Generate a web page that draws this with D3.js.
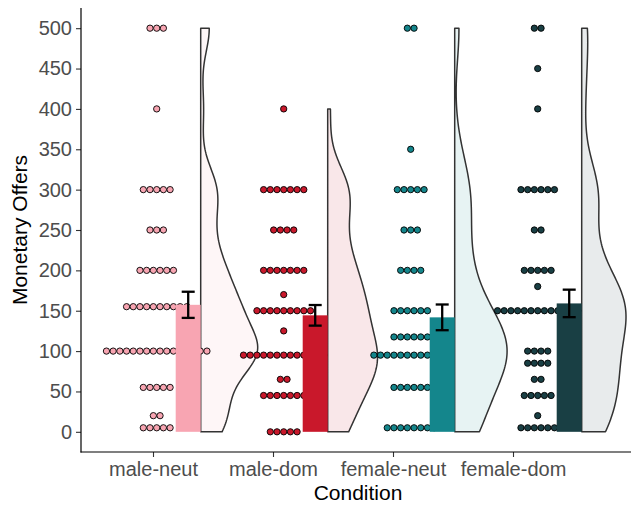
<!DOCTYPE html>
<html>
<head>
<meta charset="utf-8">
<script src="https://cdn.jsdelivr.net/npm/d3@7"></script>
<style>
body { margin: 0; background: #fff; }
text { font-family: "Liberation Sans", Arial, sans-serif; }
</style>
</head>
<body>
<script>
// categories, colours and tick labels
var categories = ["male-neut", "male-dom", "female-neut", "female-dom"];
var colors = ["#f8a5b2", "#c9182b", "#14868c", "#193f44"];
var yTicks = [0, 50, 100, 150, 200, 250, 300, 350, 400, 450, 500];

// offers (value, number of participants giving it), estimated from the dot rows
var maleNeutValues = [0, 10, 20, 50, 60, 100, 150, 160, 200, 250, 300, 400, 500];
var maleNeutCounts = [2, 3, 2, 3, 2, 16, 8, 2, 6, 3, 5, 1, 3];

var maleDomValues = [0, 40, 50, 60, 70, 90, 100, 125, 150, 170, 200, 250, 300, 400];
var maleDomCounts = [5, 3, 4, 1, 1, 7, 6, 1, 9, 1, 7, 4, 7, 1];

var femaleNeutValues = [0, 10, 50, 60, 90, 100, 115, 120, 150, 200, 250, 300, 350, 500];
var femaleNeutCounts = [4, 4, 3, 3, 6, 6, 3, 3, 6, 4, 3, 5, 1, 2];

var femaleDomValues = [0, 10, 20, 40, 50, 60, 70, 80, 90, 100, 150, 180, 200, 250, 300, 400, 450, 500];
var femaleDomCounts = [3, 3, 1, 2, 3, 1, 1, 2, 2, 4, 13, 1, 5, 2, 6, 1, 1, 2];

var rows = [
    [maleNeutValues, maleNeutCounts],
    [maleDomValues, maleDomCounts],
    [femaleNeutValues, femaleNeutCounts],
    [femaleDomValues, femaleDomCounts]
];

var width = 631, height = 506;
var svg = d3.select("body").append("svg")
    .attr("width", width)
    .attr("height", height);

var yScale = d3.scaleLinear().domain([-25, 525]).range([452, 8]);
var xScale = d3.scalePoint().domain(categories).range([153, 513]);
// the raincloud pieces sit on their own, slightly wider, spacing
var baseScale = d3.scaleLinear().domain([0, 3]).range([200.7, 581.7]);

var dotD = 6.7, barW = 25, dotShift = 44, maxHalf = 57, binWidth = 16;

// dot-density binning: a bin starts at a value and takes everything within binWidth
function dotBins(sorted) {
    var bins = [], i = 0;
    while (i < sorted.length) {
        var j = i;
        while (j < sorted.length && sorted[j] < sorted[i] + binWidth) j++;
        bins.push({ center: (sorted[i] + sorted[j - 1]) / 2, count: j - i });
        i = j;
    }
    return bins;
}

function bwNrd0(x) {
    var s = d3.deviation(x);
    var iqr = (d3.quantile(x, 0.75) - d3.quantile(x, 0.25)) / 1.34;
    var lo = Math.min(s, iqr) || s;
    return 0.9 * lo * Math.pow(x.length, -0.2);
}

var groups = rows.map(function(r, i) {
    var vals = [];
    r[0].forEach(function(v, k) {
        for (var j = 0; j < r[1][k]; j++) vals.push(v);
    });
    vals.sort(d3.ascending);
    var g = { i: i, name: categories[i], values: vals, bins: dotBins(vals) };
    var bw = bwNrd0(vals);
    var lo = d3.min(vals), hi = d3.max(vals);
    g.dens = d3.range(200).map(function(k) {
        var y = lo + (hi - lo) * k / 199;
        var s = 0;
        vals.forEach(function(v) {
            var z = (y - v) / bw;
            s += Math.exp(-0.5 * z * z);
        });
        return { y: y, d: s / (vals.length * bw * Math.sqrt(2 * Math.PI)) };
    });
    g.mean = d3.mean(vals);
    g.se = d3.deviation(vals) / Math.sqrt(vals.length);
    return g;
});

var maxDens = d3.max(groups, function(g) { return d3.max(g.dens, function(p) { return p.d; }); });
var wScale = d3.scaleLinear().domain([0, maxDens]).range([0, maxHalf]);

// half violins
groups.forEach(function(g) {
    var base = baseScale(g.i);
    var area = d3.area()
        .x0(base)
        .x1(function(p) { return base + wScale(p.d); })
        .y(function(p) { return yScale(p.y); });
    svg.append("path")
        .datum(g.dens)
        .attr("d", area)
        .attr("fill", colors[g.i])
        .attr("fill-opacity", 0.1)
        .attr("stroke", "#333333")
        .attr("stroke-width", 1.5)
        .attr("stroke-linejoin", "round");
});

// dot rows
groups.forEach(function(g) {
    var cx = baseScale(g.i) - dotShift;
    g.bins.forEach(function(b) {
        var n = b.count;
        svg.selectAll(null)
            .data(d3.range(n))
            .enter()
            .append("circle")
            .attr("cx", function(j) { return cx + (j - (n - 1) / 2) * dotD; })
            .attr("cy", yScale(b.center))
            .attr("r", dotD / 2 - 0.2)
            .attr("fill", colors[g.i])
            .attr("stroke", "#000")
            .attr("stroke-width", 0.9);
    });
});

// bars of the means
svg.selectAll("rect.bar")
    .data(groups)
    .enter()
    .append("rect")
    .attr("class", "bar")
    .attr("x", function(g) { return baseScale(g.i) - barW; })
    .attr("y", function(g) { return yScale(g.mean); })
    .attr("width", barW)
    .attr("height", function(g) { return yScale(0) - yScale(g.mean); })
    .attr("fill", function(g) { return colors[g.i]; });

// error bars (standard error)
groups.forEach(function(g) {
    var cx = baseScale(g.i) - barW / 2;
    var top = yScale(g.mean + g.se), bot = yScale(g.mean - g.se);
    var eb = svg.append("g").attr("stroke", "#000").attr("stroke-width", 2.3);
    eb.append("line").attr("x1", cx).attr("x2", cx).attr("y1", top).attr("y2", bot);
    eb.append("line").attr("x1", cx - 6.5).attr("x2", cx + 6.5).attr("y1", top).attr("y2", top);
    eb.append("line").attr("x1", cx - 6.5).attr("x2", cx + 6.5).attr("y1", bot).attr("y2", bot);
});

// axes
var yAxis = d3.axisLeft(yScale).tickValues(yTicks).tickSize(5).tickSizeOuter(0).tickPadding(4);
var gy = svg.append("g").attr("transform", "translate(81,0)").call(yAxis);
var xAxis = d3.axisBottom(xScale).tickSize(5).tickSizeOuter(0).tickPadding(5);
var gx = svg.append("g").attr("transform", "translate(0,452)").call(xAxis);

gx.select(".domain").remove();
gy.select(".domain").remove();
svg.append("line").attr("x1", 81).attr("x2", 81).attr("y1", 8).attr("y2", 452.5)
    .attr("stroke", "#000").attr("stroke-width", 1.2);
svg.append("line").attr("x1", 80.5).attr("x2", 631).attr("y1", 452).attr("y2", 452)
    .attr("stroke", "#000").attr("stroke-width", 1.2);

[gx, gy].forEach(function(a) {
    a.selectAll(".tick line").attr("stroke", "#333333").attr("stroke-width", 1.1);
    a.selectAll(".tick text")
        .attr("fill", "#4d4d4d")
        .style("font-size", "20px")
        .style("font-family", "'Liberation Sans', Arial, sans-serif");
});

svg.append("text")
    .attr("x", 358)
    .attr("y", 500)
    .attr("text-anchor", "middle")
    .style("font-size", "21px")
    .attr("fill", "#000")
    .text("Condition");

svg.append("text")
    .attr("transform", "translate(27,230) rotate(-90)")
    .attr("text-anchor", "middle")
    .style("font-size", "21px")
    .attr("fill", "#000")
    .text("Monetary Offers");
</script>
</body>
</html>
